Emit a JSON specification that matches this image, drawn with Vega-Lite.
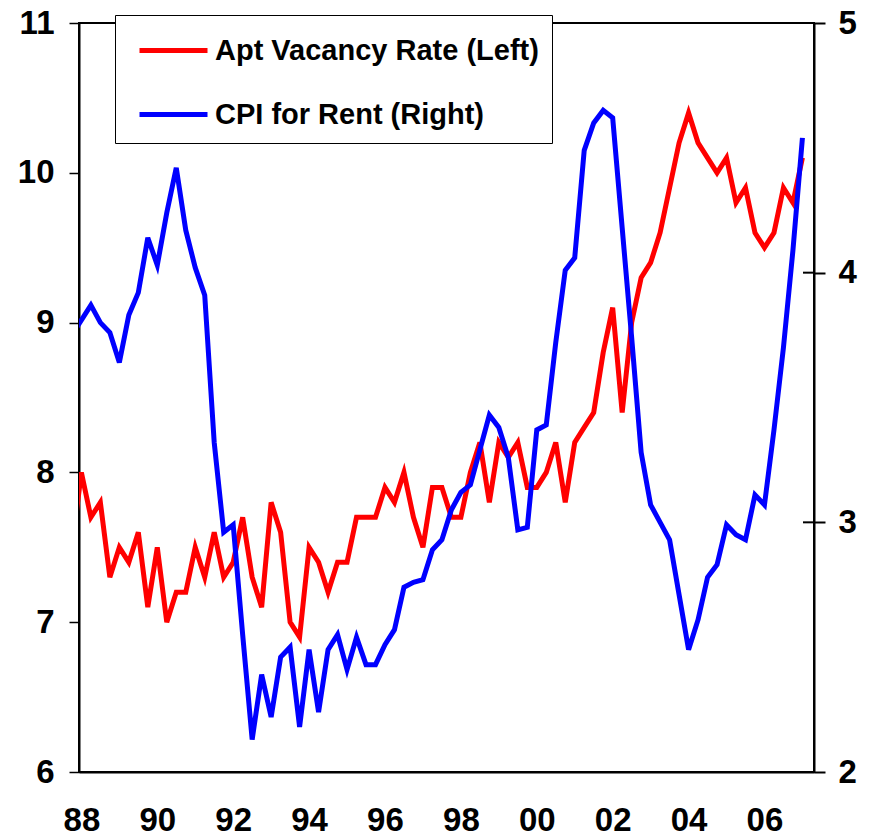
{
  "$schema": "https://vega.github.io/schema/vega-lite/v6.json",
  "width": 735,
  "height": 749,
  "autosize": {"type": "none"},
  "padding": {"left": 79, "top": 23, "right": 60, "bottom": 65},
  "background": "white",
  "data": {
    "values": [
      {"t": 1987.75, "vac": 7.5, "cpi": 3.75},
      {"t": 1988.0, "vac": 8.0, "cpi": 3.81},
      {"t": 1988.25, "vac": 7.7, "cpi": 3.87},
      {"t": 1988.5, "vac": 7.8, "cpi": 3.80},
      {"t": 1988.75, "vac": 7.3, "cpi": 3.76},
      {"t": 1989.0, "vac": 7.5, "cpi": 3.64},
      {"t": 1989.25, "vac": 7.4, "cpi": 3.83},
      {"t": 1989.5, "vac": 7.6, "cpi": 3.92},
      {"t": 1989.75, "vac": 7.1, "cpi": 4.14},
      {"t": 1990.0, "vac": 7.5, "cpi": 4.03},
      {"t": 1990.25, "vac": 7.0, "cpi": 4.24},
      {"t": 1990.5, "vac": 7.2, "cpi": 4.42},
      {"t": 1990.75, "vac": 7.2, "cpi": 4.17},
      {"t": 1991.0, "vac": 7.5, "cpi": 4.02},
      {"t": 1991.25, "vac": 7.3, "cpi": 3.91},
      {"t": 1991.5, "vac": 7.6, "cpi": 3.32},
      {"t": 1991.75, "vac": 7.3, "cpi": 2.96},
      {"t": 1992.0, "vac": 7.4, "cpi": 2.99},
      {"t": 1992.25, "vac": 7.7, "cpi": 2.55},
      {"t": 1992.5, "vac": 7.3, "cpi": 2.13},
      {"t": 1992.75, "vac": 7.1, "cpi": 2.39},
      {"t": 1993.0, "vac": 7.8, "cpi": 2.22},
      {"t": 1993.25, "vac": 7.6, "cpi": 2.46},
      {"t": 1993.5, "vac": 7.0, "cpi": 2.50},
      {"t": 1993.75, "vac": 6.9, "cpi": 2.18},
      {"t": 1994.0, "vac": 7.5, "cpi": 2.49},
      {"t": 1994.25, "vac": 7.4, "cpi": 2.24},
      {"t": 1994.5, "vac": 7.2, "cpi": 2.49},
      {"t": 1994.75, "vac": 7.4, "cpi": 2.55},
      {"t": 1995.0, "vac": 7.4, "cpi": 2.41},
      {"t": 1995.25, "vac": 7.7, "cpi": 2.54},
      {"t": 1995.5, "vac": 7.7, "cpi": 2.43},
      {"t": 1995.75, "vac": 7.7, "cpi": 2.43},
      {"t": 1996.0, "vac": 7.9, "cpi": 2.51},
      {"t": 1996.25, "vac": 7.8, "cpi": 2.57},
      {"t": 1996.5, "vac": 8.0, "cpi": 2.74},
      {"t": 1996.75, "vac": 7.7, "cpi": 2.76},
      {"t": 1997.0, "vac": 7.5, "cpi": 2.77},
      {"t": 1997.25, "vac": 7.9, "cpi": 2.89},
      {"t": 1997.5, "vac": 7.9, "cpi": 2.93},
      {"t": 1997.75, "vac": 7.7, "cpi": 3.05},
      {"t": 1998.0, "vac": 7.7, "cpi": 3.12},
      {"t": 1998.25, "vac": 8.0, "cpi": 3.15},
      {"t": 1998.5, "vac": 8.2, "cpi": 3.29},
      {"t": 1998.75, "vac": 7.8, "cpi": 3.43},
      {"t": 1999.0, "vac": 8.2, "cpi": 3.38},
      {"t": 1999.25, "vac": 8.1, "cpi": 3.26},
      {"t": 1999.5, "vac": 8.2, "cpi": 2.97},
      {"t": 1999.75, "vac": 7.9, "cpi": 2.98},
      {"t": 2000.0, "vac": 7.9, "cpi": 3.37},
      {"t": 2000.25, "vac": 8.0, "cpi": 3.39},
      {"t": 2000.5, "vac": 8.2, "cpi": 3.72},
      {"t": 2000.75, "vac": 7.8, "cpi": 4.01},
      {"t": 2001.0, "vac": 8.2, "cpi": 4.06},
      {"t": 2001.25, "vac": 8.3, "cpi": 4.49},
      {"t": 2001.5, "vac": 8.4, "cpi": 4.60},
      {"t": 2001.75, "vac": 8.8, "cpi": 4.65},
      {"t": 2002.0, "vac": 9.1, "cpi": 4.62},
      {"t": 2002.25, "vac": 8.4, "cpi": 4.18},
      {"t": 2002.5, "vac": 9.0, "cpi": 3.74},
      {"t": 2002.75, "vac": 9.3, "cpi": 3.28},
      {"t": 2003.0, "vac": 9.4, "cpi": 3.07},
      {"t": 2003.25, "vac": 9.6, "cpi": 3.00},
      {"t": 2003.5, "vac": 9.9, "cpi": 2.93},
      {"t": 2003.75, "vac": 10.2, "cpi": 2.71},
      {"t": 2004.0, "vac": 10.4, "cpi": 2.49},
      {"t": 2004.25, "vac": 10.2, "cpi": 2.61},
      {"t": 2004.5, "vac": 10.1, "cpi": 2.78},
      {"t": 2004.75, "vac": 10.0, "cpi": 2.83},
      {"t": 2005.0, "vac": 10.1, "cpi": 2.99},
      {"t": 2005.25, "vac": 9.8, "cpi": 2.95},
      {"t": 2005.5, "vac": 9.9, "cpi": 2.93},
      {"t": 2005.75, "vac": 9.6, "cpi": 3.11},
      {"t": 2006.0, "vac": 9.5, "cpi": 3.07},
      {"t": 2006.25, "vac": 9.6, "cpi": 3.37},
      {"t": 2006.5, "vac": 9.9, "cpi": 3.70},
      {"t": 2006.75, "vac": 9.8, "cpi": 4.09},
      {"t": 2007.0, "vac": 10.1, "cpi": 4.54}
    ]
  },
  "layer": [
    {
      "mark": {"type": "line", "strokeWidth": 5, "clip": true},
      "encoding": {
        "x": {
          "field": "t",
          "type": "quantitative",
          "scale": {"domain": [1987.937, 2007.305], "nice": false, "zero": false},
          "axis": {
            "orient": "bottom",
            "values": [1988, 1990, 1992, 1994, 1996, 1998, 2000, 2002, 2004, 2006],
            "labelExpr": "slice(toString(datum.value), 2)",
            "ticks": false,
            "tickSize": 0,
            "labelPadding": 32,
            "labelFontSize": 33
          }
        },
        "y": {
          "field": "vac",
          "type": "quantitative",
          "scale": {"domain": [6, 11], "nice": false, "zero": false},
          "axis": {
            "orient": "left",
            "values": [6, 7, 8, 9, 10, 11],
            "tickSize": 10,
            "tickWidth": 1.5,
            "labelPadding": 15,
            "labelFontSize": 33
          }
        },
        "color": {
          "datum": "Apt Vacancy Rate (Left)",
          "scale": {
            "domain": ["Apt Vacancy Rate (Left)", "CPI for Rent (Right)"],
            "range": ["#FF0000", "#0000FF"]
          },
          "legend": {
            "title": null,
            "orient": "none",
            "legendX": 36,
            "legendY": -8,
            "padding": 13,
            "fillColor": "white",
            "strokeColor": "black",
            "symbolType": "M-0.55,0H2.85",
            "symbolSize": 1600,
            "symbolStrokeWidth": 5,
            "labelOffset": 42,
            "rowPadding": 26,
            "labelFontSize": 29,
            "labelFontWeight": "bold",
            "labelFont": "Liberation Sans",
            "labelColor": "black",
            "labelLimit": 1000
          }
        }
      }
    },
    {
      "mark": {"type": "line", "strokeWidth": 5, "clip": true},
      "encoding": {
        "x": {"field": "t", "type": "quantitative"},
        "y": {
          "field": "cpi",
          "type": "quantitative",
          "scale": {"domain": [2, 5], "nice": false, "zero": false},
          "axis": {
            "orient": "right",
            "values": [2, 3, 4, 5],
            "tickSize": 11,
            "tickWidth": 2,
            "labelPadding": 13,
            "labelFontSize": 33
          }
        },
        "color": {"datum": "CPI for Rent (Right)"}
      }
    },
    {
      "data": {"values": [{"v": 3}, {"v": 4}]},
      "mark": {"type": "rule", "strokeWidth": 2, "color": "black"},
      "encoding": {
        "x": {"datum": 2007.015},
        "x2": {"datum": 2007.305},
        "y": {
          "field": "v",
          "type": "quantitative",
          "scale": {"domain": [2, 5], "nice": false, "zero": false},
          "axis": null
        }
      }
    }
  ],
  "resolve": {"scale": {"y": "independent"}},
  "config": {
    "font": "Liberation Sans",
    "view": {"stroke": "black", "strokeWidth": 2},
    "axis": {
      "title": null,
      "grid": false,
      "labelFont": "Liberation Sans",
      "labelFontWeight": "bold",
      "labelColor": "black",
      "domainColor": "black",
      "domainWidth": 2,
      "tickColor": "black"
    }
  }
}
